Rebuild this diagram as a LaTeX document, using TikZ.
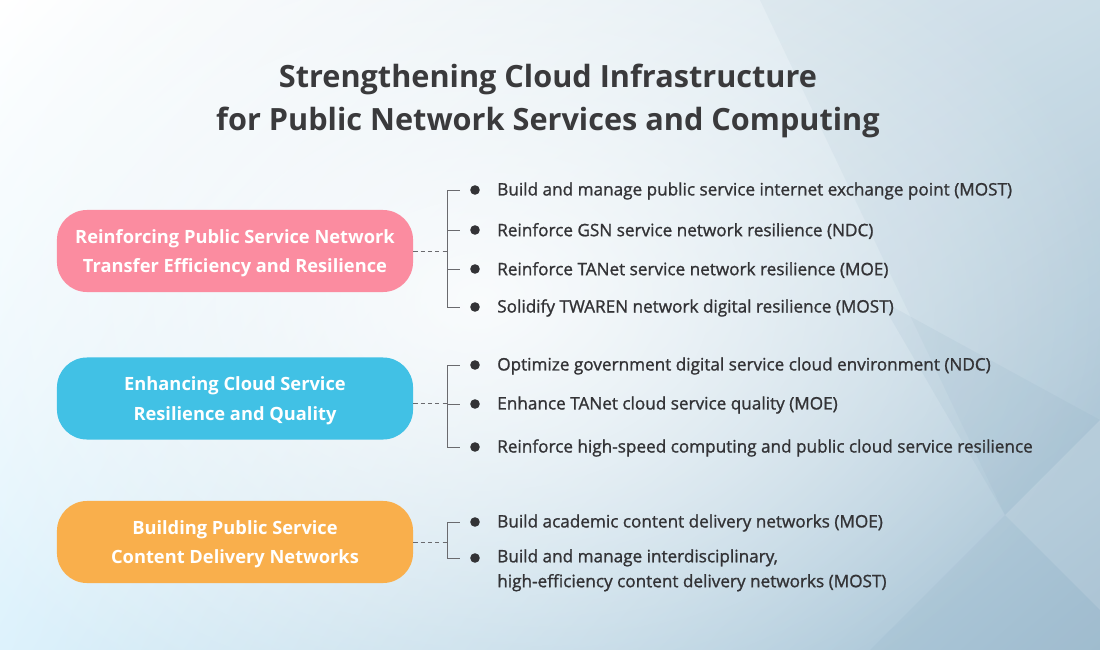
\documentclass[tikz,border=0pt]{standalone}
\usepackage{fontspec}
\setmainfont{Open Sans}
\newfontfamily\itemfont[FakeBold=1.2]{Open Sans}
\usepackage{tikz}
\usepackage{xcolor}
\usetikzlibrary{arrows.meta,positioning,shadings,fadings}

\definecolor{titlegray}{HTML}{3A3A3C}
\definecolor{itemgray}{HTML}{333336}
\definecolor{linegray}{HTML}{6A6A6E}
\definecolor{pinkbox}{HTML}{FB8CA0}
\definecolor{bluebox}{HTML}{41C1E5}
\definecolor{orangebox}{HTML}{F9AF4C}
\definecolor{bgsteel}{HTML}{7FA3BB}
\definecolor{bgul}{HTML}{FFFFFF}
\definecolor{bgll}{HTML}{DDF2FC}
\definecolor{bgur}{HTML}{D2E2EB}
\definecolor{bglr}{HTML}{A3BFD1}

\tikzfading[name=glow,inner color=transparent!15,outer color=transparent!100]

\tikzset{
  groupbox/.style={rounded corners=0.75cm,minimum width=8.9cm,minimum height=2.05cm,
    text=white,align=center,text depth=0pt,font=\bfseries\fontsize{13}{21}\selectfont},
  item/.style={anchor=west,inner sep=0pt,text=itemgray,align=left,
    font=\itemfont\fontsize{12.2}{17.7}\selectfont},
  dot/.style={circle,fill=itemgray,inner sep=0pt,minimum size=0.24cm},
  dashline/.style={linegray,line width=0.7pt,dash pattern=on 3pt off 2.2pt},
  brk/.style={linegray,line width=0.7pt}
}

\begin{document}
\begin{tikzpicture}[x=0.025cm,y=-0.025cm]
\useasboundingbox (0,0) rectangle (1100,650);
%% background
\begin{scope}
\clip (0,0) rectangle (1100,650);
\shade[upper left=bgul,lower left=bgll,upper right=bgur,lower right=bglr]
  (0,0) rectangle (1100,650);
\fill[white,path fading=glow](480,300) ellipse (640 and 460);
\fill[bgsteel,opacity=0.08](760,0)--(1100,0)--(1100,420)--(1005,515)--cycle;
\fill[bgsteel,opacity=0.10](880,300)--(1005,515)--(870,650)--(1100,650)--(1100,420)--cycle;
\fill[white,opacity=0.12](1100,420)--(1005,515)--(1100,610)--cycle;
\end{scope}
%% title
\node[text=titlegray,align=center,font=\bfseries\fontsize{21.8}{30}\selectfont] (title) at (548,101)
  {Strengthening Cloud Infrastructure\\for Public Network Services and Computing};
%% groups
\node[groupbox,fill=pinkbox] (g1) at (235,251) {Reinforcing Public Service Network\\Transfer Efficiency and Resilience};
\node[groupbox,fill=bluebox] (g2) at (235,398.5) {Enhancing Cloud Service\\Resilience and Quality};
\node[groupbox,fill=orangebox] (g3) at (235,542) {Building Public Service\\Content Delivery Networks};
%% items
\node[dot] (d11) at (475,190) {};
\node[dot] (d12) at (475,230) {};
\node[dot] (d13) at (475,269) {};
\node[dot] (d14) at (475,307) {};
\node[item] (t11) at (497,191) {Build and manage public service internet exchange point (MOST)};
\node[item] (t12) at (497,231) {Reinforce GSN service network resilience (NDC)};
\node[item] (t13) at (497,270) {Reinforce TANet service network resilience (MOE)};
\node[item] (t14) at (497,308) {Solidify TWAREN network digital resilience (MOST)};
\node[dot] (d21) at (475,365) {};
\node[dot] (d22) at (475,404) {};
\node[dot] (d23) at (475,447) {};
\node[item] (t21) at (497,366) {Optimize government digital service cloud environment (NDC)};
\node[item] (t22) at (497,405) {Enhance TANet cloud service quality (MOE)};
\node[item] (t23) at (497,448) {Reinforce high-speed computing and public cloud service resilience};
\node[dot] (d31) at (475,522) {};
\node[dot] (d32) at (475,558) {};
\node[item] (t31) at (497,523) {Build academic content delivery networks (MOE)};
\node[item,anchor=north west] (t32) at (497,549) {Build and manage interdisciplinary,\\high-efficiency content delivery networks (MOST)};
%% brackets
\coordinate (s1) at (447,251);
\coordinate (s2) at (447,403);
\coordinate (s3) at (447,542);
\draw[dashline](g1.east|-s1)--(s1);
\draw[dashline](g2.east|-s2)--(s2);
\draw[dashline](g3.east|-s3)--(s3);
\draw[brk](s1|-d11)--(s1|-d14);
\draw[brk](s2|-d21)--(s2|-d23);
\draw[brk](s3|-d31)--(s3|-d32);
\foreach \d/\s in {d11/s1,d12/s1,d13/s1,d14/s1,d21/s2,d22/s2,d23/s2,d31/s3,d32/s3}
  \draw[brk](\s|-\d)--([xshift=-0.25cm]\d.west);
\end{tikzpicture}
\end{document}
